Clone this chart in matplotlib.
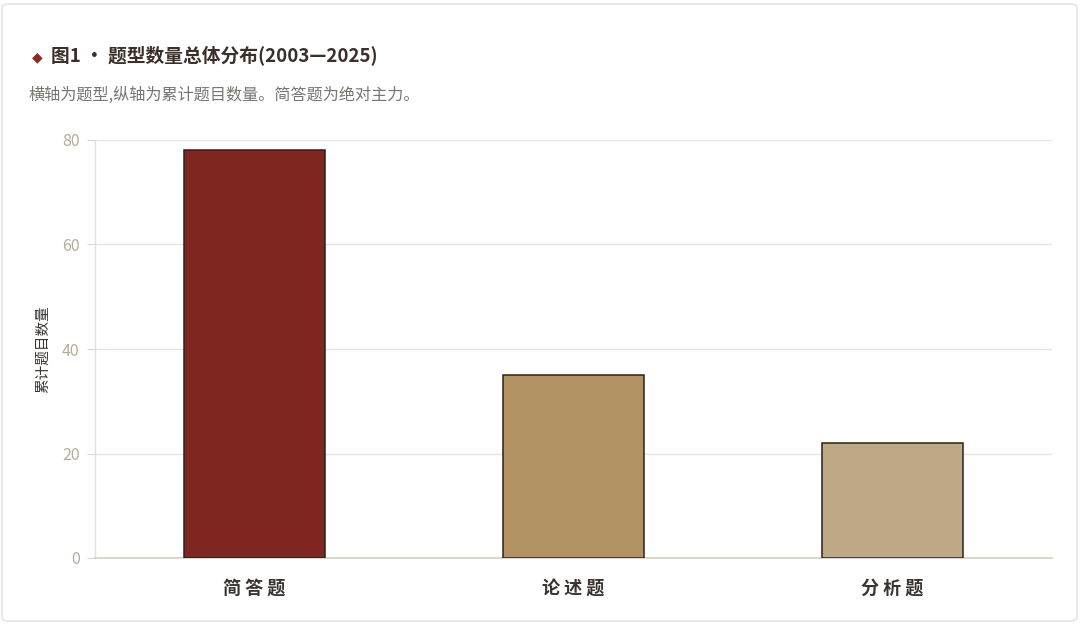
import matplotlib
matplotlib.use("Agg")
import matplotlib.pyplot as plt
from matplotlib.patches import FancyBboxPatch

plt.rcParams['font.family'] = ['Noto Sans CJK SC', 'DejaVu Sans']

categories = ["简答题", "论述题", "分析题"]
counts = [78, 35, 22]
bar_colors = ["#7f2621", "#b29464", "#bea885"]
yticks = [0, 20, 40, 60, 80]

title = "图1 · 题型数量总体分布(2003—2025)"
subtitle = "横轴为题型,纵轴为累计题目数量。简答题为绝对主力。"
ylabel = "累计题目数量"

fig = plt.figure(figsize=(10.8, 6.24), dpi=100)
fig.patch.set_facecolor("white")

# card border
card = FancyBboxPatch((2 / 1080, 3 / 624), 1075 / 1080, 617 / 624,
                      boxstyle="round,pad=0,rounding_size=0.006",
                      transform=fig.transFigure, facecolor="none",
                      edgecolor="#e2e0dc", linewidth=1.0, zorder=-10)
fig.add_artist(card)

ax = fig.add_axes([95 / 1080, 1 - 558 / 624, (1052 - 95) / 1080, (558 - 140) / 624])
ax.set_facecolor("none")
ax.set_zorder(5)

x = list(range(len(categories)))
ax.bar(x, counts, width=0.44, color=bar_colors, edgecolor="#2e211b",
       linewidth=1.1, zorder=3)
ax.set_xlim(-0.5, len(categories) - 0.5)
ax.set_ylim(0, 80)
ax.set_yticks(yticks)
ax.set_xticks(x)
ax.set_xticklabels([" ".join(c) for c in categories], fontsize=13,
                   fontweight="bold", color="#3a3430")
ax.tick_params(axis="x", length=0, pad=15)
ax.tick_params(axis="y", length=6, width=0.8, color="#d9d6cf",
               labelcolor="#b3ae98", labelsize=11.5, pad=5)
ax.grid(axis="y", color="#e9e5da", linewidth=1.0, zorder=0)
ax.set_axisbelow(True)
for s in ["top", "right"]:
    ax.spines[s].set_visible(False)
ax.spines["left"].set_color("#e3e0da")
ax.spines["left"].set_linewidth(1.0)
ax.spines["bottom"].set_color("#d6cfbf")
ax.spines["bottom"].set_linewidth(1.2)
ax.set_ylabel(ylabel, fontsize=10.5, color="#3a3430", labelpad=9)

fig.text(37 / 1080, 1 - 57 / 624, "◆", fontsize=10, color="#8a2a22",
         ha="center", va="center", family=['DejaVu Sans'])
fig.text(51 / 1080, 1 - 55 / 624, title, fontsize=13.5, fontweight="bold",
         color="#3a2f2a", ha="left", va="center")
fig.text(29 / 1080, 1 - 95 / 624, subtitle, fontsize=11.6, color="#777570",
         ha="left", va="center")

fig.savefig("out.png", dpi=100, facecolor=fig.get_facecolor())
